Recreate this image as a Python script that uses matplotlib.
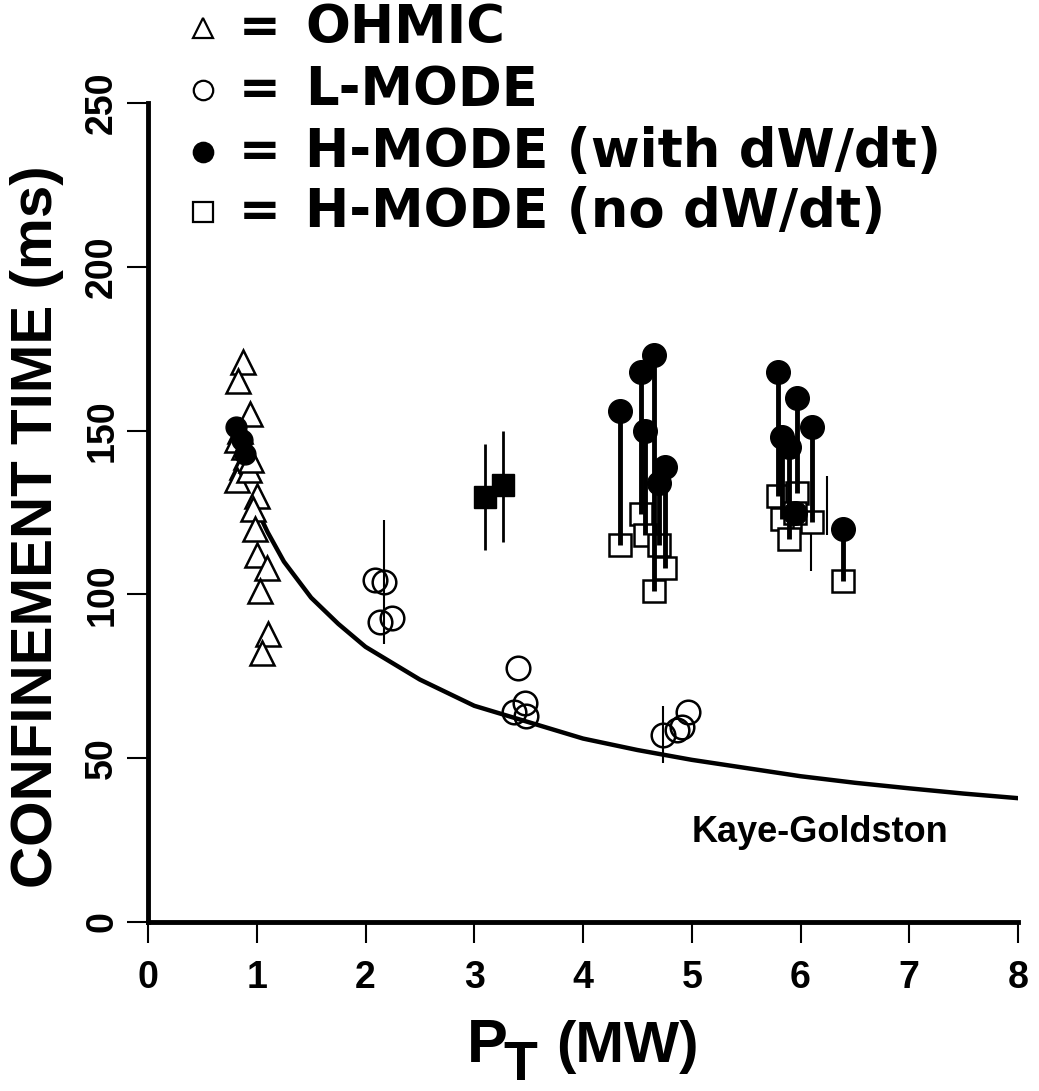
import matplotlib
matplotlib.use('Agg')
import matplotlib.pyplot as plt

plt.rcParams['font.family'] = ['Liberation Sans', 'DejaVu Sans']
plt.rcParams['font.weight'] = 'bold'

# ohmic points (open triangles)
ohmic_p = [0.87, 0.83, 0.94, 0.85, 0.82, 0.88, 0.90, 0.86, 0.82, 0.93, 0.95,
           1.00, 0.97, 0.98, 1.00, 1.09, 1.03, 1.10, 1.05]
ohmic_tau = [171, 165, 155, 150, 147, 145, 142, 139, 135, 138, 141,
             130, 126, 120, 112, 108, 101, 88, 82]

# dark blob inside ohmic cluster
ohmic_fill_p = [0.81, 0.86, 0.89]
ohmic_fill_tau = [151, 147, 143]

# L-mode (open circles)
lmode_p = [2.09, 2.17, 2.13, 2.24, 3.40, 3.47, 3.37, 3.48, 4.74, 4.86, 4.91, 4.97]
lmode_tau = [104.4, 103.8, 91.6, 92.8, 77.5, 67, 64, 63, 57, 58.6, 59.5, 64]
lerr_p = [2.17, 4.74]
lerr_lo = [85, 48.5]
lerr_hi = [122.7, 66]

# filled squares near 3 MW
fsq_p = [3.10, 3.26]
fsq_tau = [129.7, 133.4]
fsq_lo = [113.5, 116]
fsq_hi = [146, 150]

# H-mode: with dW/dt (filled circle) -> no dW/dt (open square)
h_p = [4.34, 4.53, 4.65, 4.57, 4.75, 4.70,
       5.79, 5.97, 6.11, 5.83, 5.89, 5.95, 6.39]
h_with = [156, 168, 173, 150, 139, 134,
          168, 160, 151, 148, 145, 125, 120]
h_no = [115, 124.5, 101, 118, 108, 115,
        130, 131, 122, 123, 117, 125, 104]

# thin error bars on H-mode points
herr_p = [6.24, 6.10]
herr_lo = [118, 107]
herr_hi = [136, 125]

# Kaye-Goldston curve
kg_p = [1.0, 1.1, 1.25, 1.5, 1.75, 2, 2.5, 3, 3.5, 4, 4.5, 5, 5.5, 6, 6.5, 7, 7.5, 8]
kg_tau = [126, 119, 110, 99, 91, 84, 74, 66, 61, 56, 52.5, 49.5, 47, 44.5, 42.5, 40.8, 39.2, 37.8]

W, H = 1039, 1091
fig = plt.figure(figsize=(W / 100, H / 100), dpi=100)
ax = fig.add_axes([148 / W, 1 - 922 / H, (1018 - 148) / W, (922 - 103) / H])

ax.plot(kg_p, kg_tau, color='k', lw=3.2, zorder=2)

ax.vlines(lerr_p, lerr_lo, lerr_hi, color='k', lw=1.5, zorder=3)
ax.vlines(fsq_p, fsq_lo, fsq_hi, color='k', lw=2, zorder=3)
ax.vlines(herr_p, herr_lo, herr_hi, color='k', lw=1.5, zorder=3)

ax.plot(h_p, h_no, 's', ms=16, mfc='white', mec='k', mew=1.8, zorder=4)
ax.vlines(h_p, h_no, h_with, color='k', lw=3.5, zorder=5)
ax.plot(h_p, h_with, 'o', ms=17, mfc='k', mec='k', zorder=6)

ax.plot(fsq_p, fsq_tau, 's', ms=16, mfc='k', mec='k', zorder=6)

ax.plot(lmode_p, lmode_tau, 'o', ms=17, mfc='none', mec='k', mew=1.8, zorder=4)

ax.plot(ohmic_p, ohmic_tau, '^', ms=17, mfc='white', mec='k', mew=1.8, zorder=4)
ax.plot(ohmic_fill_p, ohmic_fill_tau, 'o', ms=15, mfc='k', mec='k', zorder=5)

ax.text(5.0, 24.4, 'Kaye-Goldston', fontsize=26, fontweight='bold', ha='left', va='baseline')

ax.set_xlim(0, 8)
ax.set_ylim(0, 250)
ax.set_xticks(range(0, 9))
ax.set_yticks(range(0, 251, 50))
for s in ['top', 'right']:
    ax.spines[s].set_visible(False)
for s in ['left', 'bottom']:
    ax.spines[s].set_linewidth(3.5)
ax.tick_params(axis='both', direction='out', length=15, width=1.5, labelsize=27)
ax.tick_params(axis='x', pad=12)
ax.tick_params(axis='y', pad=5, labelrotation=90)
for lab in ax.get_yticklabels():
    lab.set_va('center')
for lab in ax.get_xticklabels() + ax.get_yticklabels():
    lab.set_fontweight('bold')

# axis labels
fig.text(37 / W, 1 - 527 / H, 'CONFINEMENT TIME (ms)', rotation=90, fontsize=42,
         fontweight='bold', ha='center', va='center')
fig.text(467 / W, 1 - 1062 / H, 'P', fontsize=44, fontweight='bold', ha='left', va='baseline')
fig.text(503 / W, 1 - 1080 / H, 'T', fontsize=40, fontweight='bold', ha='left', va='baseline')
fig.text(556 / W, 1 - 1062 / H, '(MW)', fontsize=42, fontweight='bold', ha='left', va='baseline')

# legend (wide lettering in the original, so DejaVu Sans Bold)
leg_y = [28, 90, 152, 212]
leg_txt = ['OHMIC', 'L-MODE', 'H-MODE (with dW/dt)', 'H-MODE (no dW/dt)']
leg_mk = [('^', 'white'), ('o', 'white'), ('o', 'k'), ('s', 'white')]
for y, t, (m, fc) in zip(leg_y, leg_txt, leg_mk):
    yf = 1 - y / H
    fig.lines.append(plt.Line2D([203 / W], [yf], marker=m, ms=14, mfc=fc, mec='k',
                                mew=1.6, transform=fig.transFigure, figure=fig))
    fig.text(260 / W, yf, '=', fontsize=36, fontweight='bold', family='DejaVu Sans',
             ha='center', va='center')
    fig.text(305 / W, yf, t, fontsize=38, fontweight='bold', family='DejaVu Sans',
             ha='left', va='center')

fig.savefig('out.png', dpi=100)
